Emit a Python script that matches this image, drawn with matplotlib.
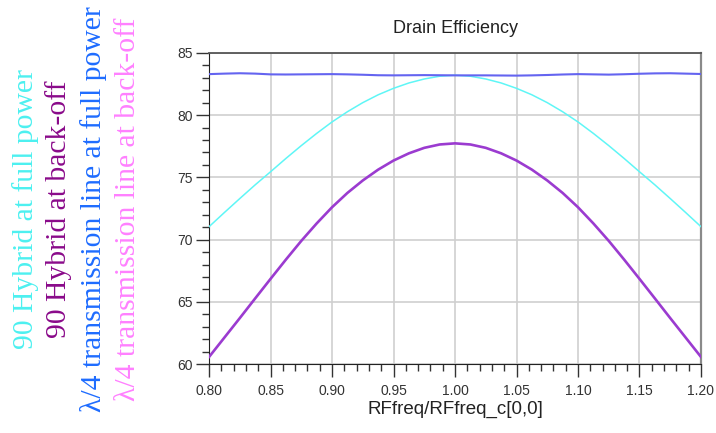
import matplotlib
matplotlib.use("Agg")
import matplotlib.pyplot as plt
from matplotlib.ticker import MultipleLocator

# normalised frequency, read at 0.0125 steps
freq = [0.8000, 0.8125, 0.8250, 0.8375, 0.8500, 0.8625, 0.8750, 0.8875,
        0.9000, 0.9125, 0.9250, 0.9375, 0.9500, 0.9625, 0.9750, 0.9875,
        1.0000, 1.0125, 1.0250, 1.0375, 1.0500, 1.0625, 1.0750, 1.0875,
        1.1000, 1.1125, 1.1250, 1.1375, 1.1500, 1.1625, 1.1750, 1.1875,
        1.2000]

# lambda/4 line at full power (nearly flat, small ripple)
qw_full = [83.29, 83.33, 83.36, 83.33, 83.27, 83.26, 83.27, 83.28,
           83.29, 83.27, 83.24, 83.20, 83.19, 83.20, 83.21, 83.20,
           83.19, 83.19, 83.19, 83.18, 83.17, 83.19, 83.22, 83.26,
           83.29, 83.27, 83.25, 83.28, 83.32, 83.35, 83.36, 83.33,
           83.30]
# 90 hybrid at full power
hyb_full = [71.04, 72.18, 73.30, 74.40, 75.45, 76.52, 77.55, 78.53,
            79.45, 80.27, 81.00, 81.63, 82.15, 82.58, 82.90, 83.12,
            83.20, 83.12, 82.90, 82.58, 82.15, 81.63, 81.00, 80.27,
            79.45, 78.53, 77.55, 76.52, 75.45, 74.40, 73.30, 72.18,
            71.04]
# 90 hybrid at back-off
hyb_bo = [60.58, 62.14, 63.70, 65.28, 66.85, 68.40, 69.90, 71.30,
          72.60, 73.75, 74.75, 75.62, 76.35, 76.93, 77.37, 77.64,
          77.73, 77.64, 77.37, 76.93, 76.35, 75.62, 74.75, 73.75,
          72.60, 71.30, 69.90, 68.40, 66.85, 65.28, 63.70, 62.14,
          60.58]

legend_labels = ["90 Hybrid at full power", "90 Hybrid at back-off",
                 "\u03bb/4 transmission line at full power",
                 "\u03bb/4 transmission line at back-off"]
legend_colors = ["#4cf0f0", "#8a0a8a", "#1e6cff", "#ff80ff"]

fig = plt.figure(figsize=(7.16, 4.33), dpi=100)
ax = fig.add_axes([0.292, 0.159, 0.687, 0.719])

ax.plot(freq, hyb_full, color="#5ff6f6", lw=1.1, zorder=3)
ax.plot(freq, hyb_bo, color="#9b3bd0", lw=1.9, zorder=3)
ax.plot(freq, qw_full, color="#6464f0", lw=1.5, zorder=4)

ax.set_xlim(0.80, 1.20)
ax.set_ylim(60, 85)
ax.xaxis.set_major_locator(MultipleLocator(0.05))
ax.xaxis.set_minor_locator(MultipleLocator(0.01))
ax.yaxis.set_major_locator(MultipleLocator(5))
ax.yaxis.set_minor_locator(MultipleLocator(1))
ax.xaxis.set_major_formatter(lambda v, p: f"{v:.2f}")
ax.yaxis.set_major_formatter(lambda v, p: f"{v:.0f}")

ax.grid(True, which="major", color="#cfcfcf", lw=1.2)
ax.set_axisbelow(True)
ax.tick_params(which="major", direction="out", length=9.5, width=1.0,
               color="#333333", labelsize=10, labelcolor="#333333")
ax.tick_params(axis="x", which="major", pad=5)
ax.tick_params(axis="y", which="major", pad=2)
ax.tick_params(which="minor", direction="out", length=4.8, width=1.0,
               color="#333333")
for lab in ax.get_xticklabels() + ax.get_yticklabels():
    lab.set_family("Liberation Sans")

ax.spines["left"].set_color("#222222")
ax.spines["bottom"].set_color("#222222")
ax.spines["top"].set_color("#555555")
ax.spines["right"].set_color("#8a8a8a")
ax.spines["right"].set_linewidth(1.6)
ax.spines["top"].set_linewidth(1.3)

ax.set_title("Drain Efficiency", fontsize=13, family="Liberation Sans",
             color="#222222", pad=14)
ax.set_xlabel("RFfreq/RFfreq_c[0,0]", fontsize=13.5, family="Liberation Sans",
              color="#222222", labelpad=1.5)

xs = [0.035, 0.082, 0.130, 0.179]
for x, txt, c in zip(xs, legend_labels, legend_colors):
    fig.text(x, 0.517, txt, rotation=90, ha="center", va="center",
             fontsize=21.3, family="Liberation Serif", color=c)

fig.savefig("out.png", dpi=100)
